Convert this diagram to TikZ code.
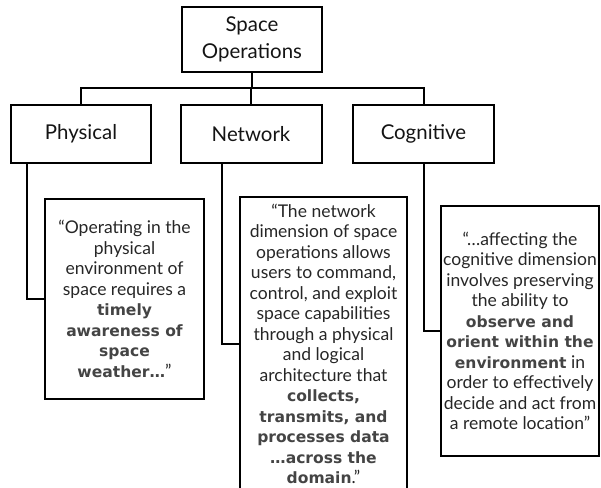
\documentclass[tikz,border=0pt]{standalone}
\usepackage{fontspec}
\setmainfont{Lato}
\newfontfamily\emphfont{DejaVu Sans}[BoldFont={DejaVu Sans Bold}]
\definecolor{quotegray}{HTML}{262626}
\definecolor{keygray}{HTML}{444444}
\definecolor{titleink}{HTML}{141414}
\newcommand{\keyword}[1]{{\emphfont\bfseries\fontsize{15.6}{20.6}\selectfont\color{keygray}#1}}
\tikzset{
  box/.style={draw=black, line width=2bp, rectangle, inner sep=0pt, align=center},
  titlebox/.style={box, font=\fontsize{20.5}{27}\selectfont, text=titleink},
  quotebox/.style={box, font=\fontsize{17.6}{20.6}\selectfont, text=quotegray},
  link/.style={draw=black, line width=2bp, line cap=rect}
}
\begin{document}
\begin{tikzpicture}[x=1bp, y=-1bp]
\useasboundingbox (0,0) rectangle (601,488);

% top of the hierarchy
\node[titlebox, minimum width=140bp, minimum height=65bp] (top) at (252,39.5)
  {Space\\Operations};

% the three dimensions
\node[titlebox, minimum width=140bp, minimum height=58bp] (phys) at (81,134) {Physical};
\node[titlebox, minimum width=141bp, minimum height=58bp] (net) at (251,134) {Network};
\node[titlebox, minimum width=141bp, minimum height=58bp] (cog) at (423.5,134) {Cognitive};

% quotations
\node[quotebox, minimum width=159bp, minimum height=200bp] (q1) at (124.5,299)
  {“Operating in the\\
   physical\\
   environment of\\
   space requires a\\
   \keyword{timely}\\
   \keyword{awareness of}\\
   \keyword{space}\\
   \keyword{weather…}”};

\node[quotebox, minimum width=167bp, minimum height=294bp] (q2) at (323.5,344)
  {“The network\\
   dimension of space\\
   operations allows\\
   users to command,\\
   control, and exploit\\
   space capabilities\\
   through a physical\\
   and logical\\
   architecture that\\
   \keyword{collects,}\\
   \keyword{transmits, and}\\
   \keyword{processes data}\\
   \keyword{…across the}\\
   \keyword{domain}.”};

\node[quotebox, minimum width=158bp, minimum height=250bp] (q3) at (520,331)
  {“…affecting the\\
   cognitive dimension\\
   involves preserving\\
   the ability to\\
   \keyword{observe and}\\
   \keyword{orient within the}\\
   \keyword{environment} in\\
   order to effectively\\
   decide and act from\\
   a remote location”};

% tree connectors
\coordinate (bar) at (252,88);
\draw[link] (top.south) -- (bar);
\draw[link] (phys.north) |- (bar) -| (cog.north);
\draw[link] (net.north) -- (net.north |- bar);

% connectors to the quotations
\draw[link] ([xshift=17bp]phys.south west) |- (q1.west);
\draw[link] ([xshift=42.5bp]net.south west) |- (q2.west);
\draw[link] (cog.south) |- (q3.west);
\end{tikzpicture}
\end{document}
